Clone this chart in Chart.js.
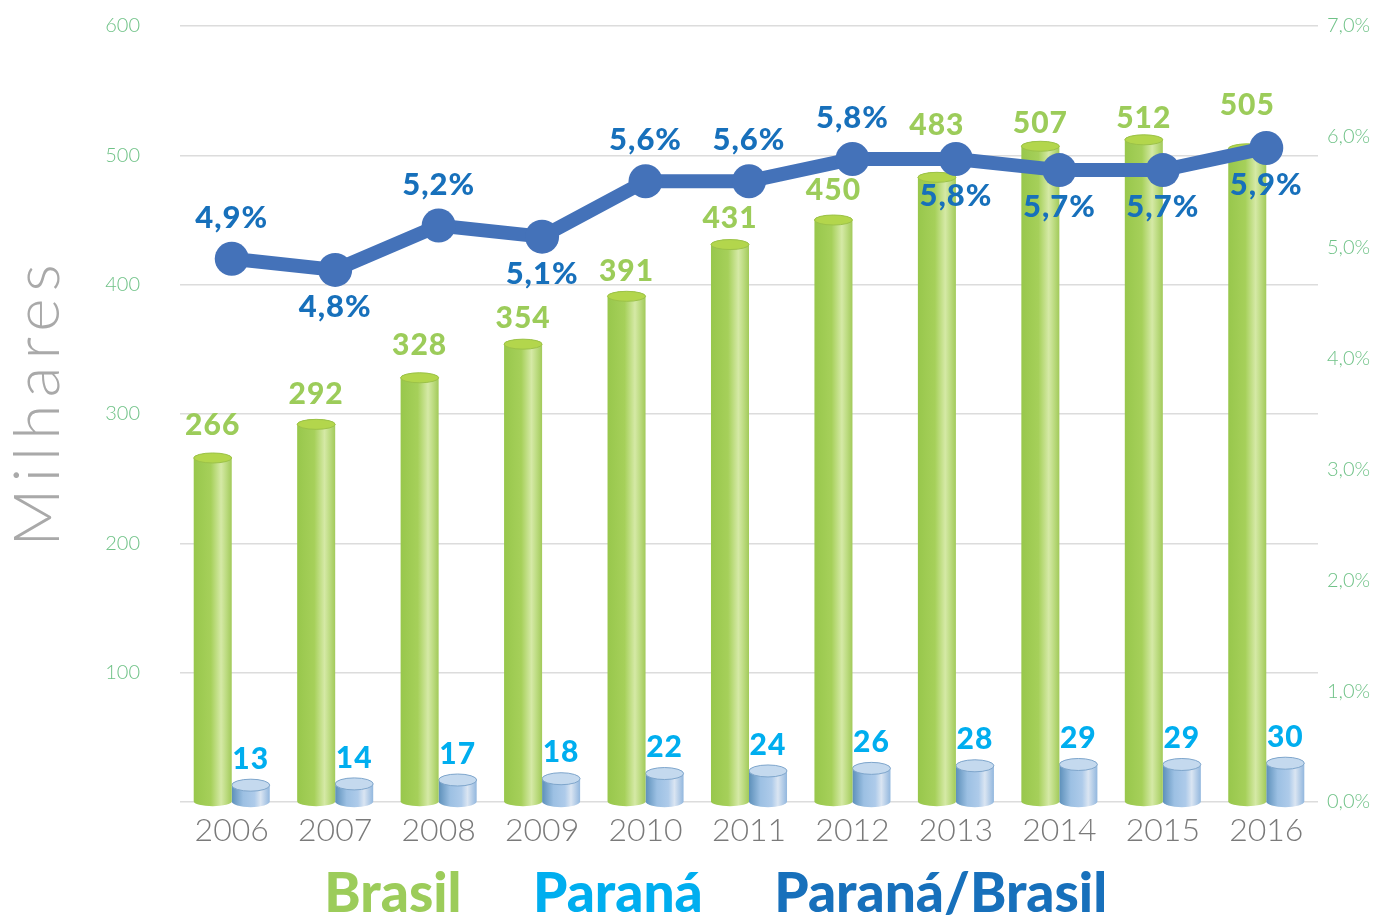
<!DOCTYPE html>
<html>
<head>
<meta charset="utf-8">
<script src="https://cdn.jsdelivr.net/npm/chart.js@4.4.1/dist/chart.umd.min.js"></script>
<style>
  html, body { margin: 0; padding: 0; background: #fff; }
  #wrap { width: 1378px; height: 917px; }
</style>
</head>
<body>
<div id="wrap"><canvas id="chart"></canvas></div>
<script>
// data
const years = ['2006', '2007', '2008', '2009', '2010', '2011', '2012', '2013', '2014', '2015', '2016'];
const brasil = [266, 292, 328, 354, 391, 431, 450, 483, 507, 512, 505];
const parana = [13, 14, 17, 18, 22, 24, 26, 28, 29, 29, 30];
const share = [4.9, 4.8, 5.2, 5.1, 5.6, 5.6, 5.8, 5.8, 5.7, 5.7, 5.9];
const leftMax = 600;
const rightMax = 7;

// label placement (px above bar top / above or below the point)
const brasilLabelLift = [33, 30, 32, 26, 25, 26, 30, 52, 23, 21, 44];
const shareLabelAbove = [true, false, true, false, true, true, true, false, false, false, false];

const GREEN = '#9ccc5a';
const CYAN = '#00aeef';
const DARKBLUE = '#1770bb';
const LINEBLUE = '#4472b9';
const TICKGREEN = '#6fc287';
const BOLD = '"Lato", "Open Sans", sans-serif';
const THIN = '"Lato", "Open Sans", sans-serif';

const pct = v => v.toFixed(1).replace('.', ',') + '%';

const cylinderStyles = {
  green: {
    stops: [[0, '#98c74c'], [0.45, '#a6d05a'], [0.72, '#d5e9a6'], [0.86, '#bcdb80'], [1, '#a2ca5a']],
    cap: '#b3d64c', rim: '#9cc248', ry: 5
  },
  blue: {
    stops: [[0, '#5d90ba'], [0.3, '#9cc0e3'], [0.6, '#aecbea'], [0.76, '#dae5f2'], [1, '#92b7de']],
    cap: '#c4d9ee', rim: '#7fa6cc', ry: 6
  }
};

const cylinders = {
  id: 'cylinders',
  afterDatasetDraw(chart, args) {
    const ds = chart.data.datasets[args.index];
    if (!ds.cylinder) return;
    const st = cylinderStyles[ds.cylinder];
    const ctx = chart.ctx;
    args.meta.data.forEach(bar => {
      const { x, y, base, width } = bar.getProps(['x', 'y', 'base', 'width'], true);
      const l = x - width / 2, r = x + width / 2, rx = width / 2, ry = st.ry;
      const g = ctx.createLinearGradient(l, 0, r, 0);
      st.stops.forEach(s => g.addColorStop(s[0], s[1]));
      ctx.save();
      ctx.beginPath();
      ctx.moveTo(l, y);
      ctx.lineTo(l, base);
      ctx.ellipse(x, base, rx, ry, 0, Math.PI, 0, true);
      ctx.lineTo(r, y);
      ctx.ellipse(x, y, rx, ry, 0, 0, Math.PI, true);
      ctx.closePath();
      ctx.fillStyle = g;
      ctx.fill();
      ctx.beginPath();
      ctx.ellipse(x, y, rx, ry, 0, 0, Math.PI * 2);
      ctx.fillStyle = st.cap;
      ctx.fill();
      ctx.lineWidth = 1;
      ctx.strokeStyle = st.rim;
      ctx.stroke();
      ctx.restore();
    });
  }
};

const valueLabels = {
  id: 'valueLabels',
  afterDatasetsDraw(chart) {
    const ctx = chart.ctx;
    ctx.save();
    ctx.textAlign = 'center';
    ctx.textBaseline = 'middle';
    ctx.letterSpacing = '1px';
    const greenMeta = chart.getDatasetMeta(0);
    const blueMeta = chart.getDatasetMeta(1);
    const lineMeta = chart.getDatasetMeta(2);
    ctx.font = '900 30px ' + BOLD;
    ctx.fillStyle = GREEN;
    greenMeta.data.forEach((b, i) => ctx.fillText(brasil[i], b.x, b.y - brasilLabelLift[i]));
    ctx.fillStyle = CYAN;
    blueMeta.data.forEach((b, i) => ctx.fillText(parana[i], b.x, b.y - 26));
    ctx.font = '900 31px ' + BOLD;
    ctx.fillStyle = DARKBLUE;
    lineMeta.data.forEach((p, i) => {
      const dy = shareLabelAbove[i] ? -41 : 37;
      ctx.fillText(pct(share[i]), p.x, p.y + dy);
    });
    ctx.restore();
  }
};

// rotated axis title, drawn by hand so it can be letter-spaced
const axisTitle = {
  id: 'axisTitle',
  afterDraw(chart) {
    const { ctx, chartArea } = chart;
    ctx.save();
    ctx.translate(38, (chartArea.top + chartArea.bottom) / 2 - 12);
    ctx.rotate(-Math.PI / 2);
    ctx.letterSpacing = '7px';
    ctx.font = '300 64px ' + THIN;
    ctx.fillStyle = '#a9a9a9';
    ctx.textAlign = 'center';
    ctx.textBaseline = 'middle';
    ctx.fillText('Milhares', 0, 0);
    ctx.restore();
  }
};

const ctx = document.getElementById('chart').getContext('2d');
new Chart(ctx, {
  type: 'bar',
  data: {
    labels: years,
    datasets: [
      {
        label: 'Brasil',
        data: brasil,
        yAxisID: 'y',
        backgroundColor: 'rgba(0,0,0,0)',
        cylinder: 'green',
        categoryPercentage: 0.735,
        barPercentage: 1,
        order: 1
      },
      {
        label: 'Paraná',
        data: parana,
        yAxisID: 'y',
        backgroundColor: 'rgba(0,0,0,0)',
        cylinder: 'blue',
        categoryPercentage: 0.735,
        barPercentage: 1,
        order: 1
      },
      {
        type: 'line',
        label: 'Paraná/Brasil',
        data: share,
        yAxisID: 'y1',
        borderColor: LINEBLUE,
        backgroundColor: LINEBLUE,
        borderWidth: 14,
        pointRadius: 17,
        pointHoverRadius: 17,
        pointBackgroundColor: LINEBLUE,
        pointBorderWidth: 0,
        tension: 0,
        clip: false,
        order: 0
      }
    ]
  },
  options: {
    responsive: true,
    maintainAspectRatio: false,
    animation: false,
    layout: { autoPadding: false, padding: { top: 26, left: 0, right: 0, bottom: -15 } },
    plugins: {
      tooltip: { enabled: false },
      legend: {
        position: 'bottom',
        labels: {
          boxWidth: 26,
          padding: 18,
          font: { family: BOLD, size: 55, weight: '900' },
          sort: (a, b) => a.datasetIndex - b.datasetIndex,
          generateLabels: chart => chart.data.datasets.map((d, i) => ({
            text: d.label,
            fontColor: [GREEN, CYAN, DARKBLUE][i],
            fillStyle: 'rgba(0,0,0,0)',
            strokeStyle: 'rgba(0,0,0,0)',
            lineWidth: 0,
            hidden: false,
            datasetIndex: i
          }))
        }
      }
    },
    scales: {
      x: {
        grid: { display: false },
        border: { display: false },
        ticks: {
          color: '#7a7a7a',
          padding: 1,
          font: { family: THIN, size: 32, weight: '300' }
        },
        afterFit: s => { s.height = 47; }
      },
      y: {
        position: 'left',
        min: 0,
        max: leftMax,
        ticks: {
          stepSize: 100,
          padding: 40,
          color: TICKGREEN,
          font: { family: THIN, size: 20, weight: '300' },
          callback: v => (v === 0 ? '' : v)
        },
        grid: { color: '#dcdcdc', lineWidth: 1.5, drawTicks: false },
        border: { display: false },
        afterFit: s => { s.width = 180; s.paddingTop = 0; s.paddingBottom = 0; }
      },
      y1: {
        position: 'right',
        min: 0,
        max: rightMax,
        ticks: {
          stepSize: 1,
          padding: 9,
          color: TICKGREEN,
          font: { family: THIN, size: 20, weight: '300' },
          callback: v => pct(v)
        },
        grid: { display: false, drawTicks: false },
        border: { display: false },
        afterFit: s => { s.width = 60; s.paddingTop = 0; s.paddingBottom = 0; }
      }
    }
  },
  plugins: [cylinders, valueLabels, axisTitle]
});
</script>
</body>
</html>
